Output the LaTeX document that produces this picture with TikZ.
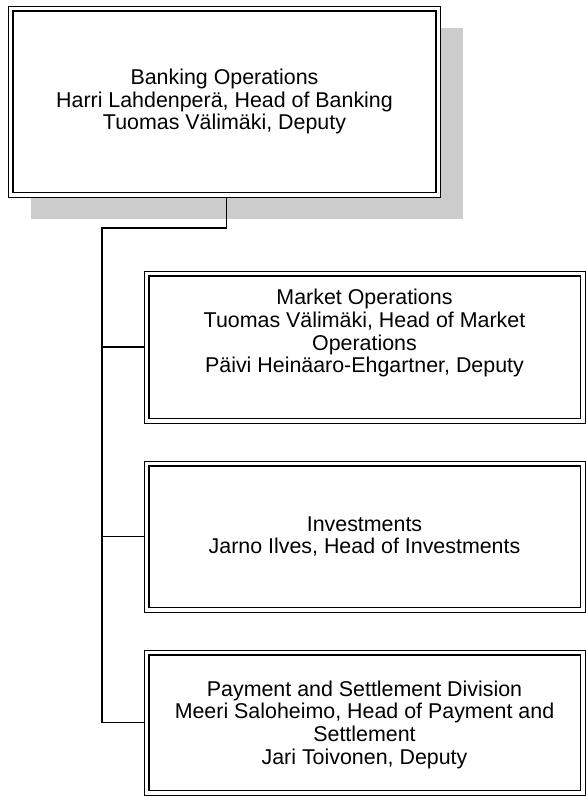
\documentclass[tikz,border=0pt]{standalone}
\usepackage{fontspec}
\setmainfont{Liberation Sans}
\usetikzlibrary{shadows}

\tikzset{
  orgbox/.style={draw=black, fill=white, line width=0.8pt, align=center,
    inner sep=0pt, minimum width=441pt, font=\fontsize{21.4}{22.6}\selectfont},
  inner line/.style={line width=1.8pt},
  link/.style={line width=1.3pt}
}

\begin{document}
\begin{tikzpicture}[x=1pt, y=-1pt]
    \useasboundingbox (0,0) rectangle (586,796);

    % head of department
    \node[orgbox, minimum width=432pt, minimum height=191pt,
      drop shadow={shadow xshift=22pt, shadow yshift=-22pt, opacity=1, fill=black!20}]
      (bank) at (224.5,101.5)
      {Banking Operations\\ Harri Lahdenperä, Head of Banking\\ Tuomas Välimäki, Deputy};

    % units
    \node[orgbox, minimum height=152pt, text depth=32pt] (market) at (364.5,347)
      {Market Operations\\ Tuomas Välimäki, Head of Market\\ Operations\\ Päivi Heinäaro-Ehgartner, Deputy};
    \node[orgbox, minimum height=151pt] (invest) at (364.5,536.5)
      {Investments\\ Jarno Ilves, Head of Investments};
    \node[orgbox, minimum height=145pt, text depth=-3.5pt] (payment) at (364.5,722.5)
      {Payment and Settlement Division\\ Meeri Saloheimo, Head of Payment and\\ Settlement\\ Jari Toivonen, Deputy};

    \foreach \n in {bank,market,invest,payment}
      \draw[inner line] ([shift={(5,5)}]\n.north west) rectangle ([shift={(-5,-5)}]\n.south east);

    % connectors
    \coordinate (spine) at (102,228);
    \draw[link] ([xshift=2pt]bank.south) |- (spine) -- (spine |- payment.west) -- (payment.west);
    \draw[link] (spine |- market.west) -- (market.west);
    \draw[link] (spine |- invest.west) -- (invest.west);
  \end{tikzpicture}
\end{document}
